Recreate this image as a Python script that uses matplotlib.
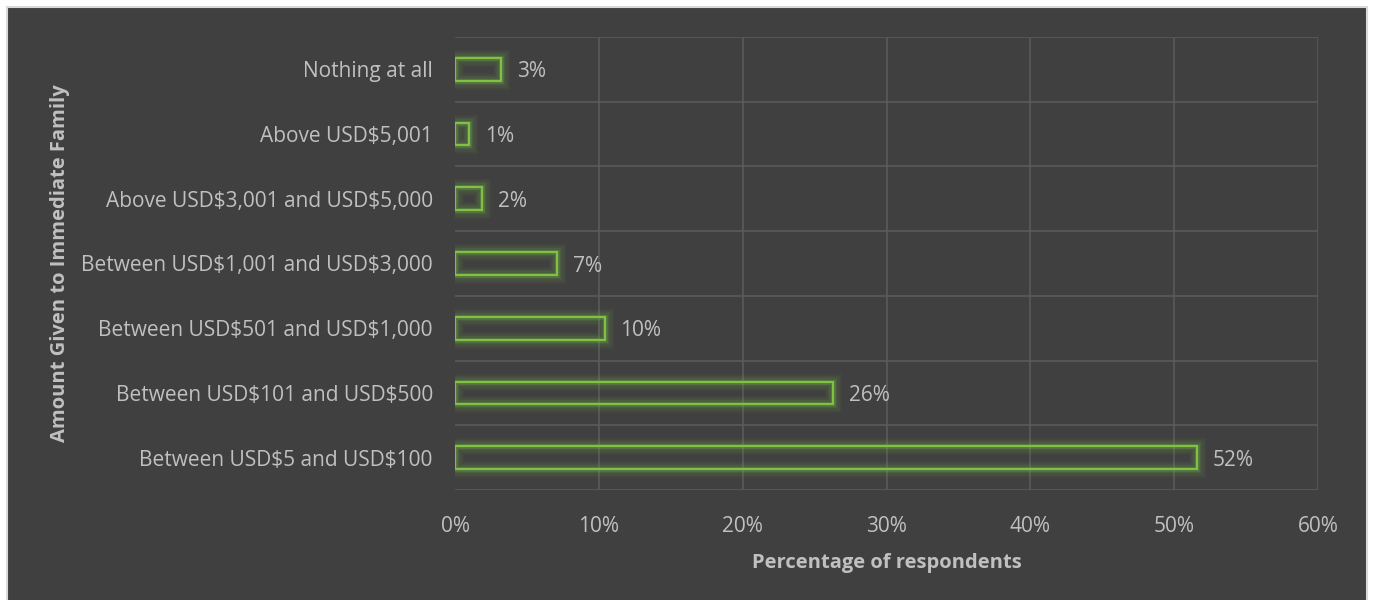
import matplotlib.pyplot as plt
from matplotlib.patches import Rectangle
from matplotlib.ticker import FuncFormatter

# Data
categories = ["Between USD$5 and USD$100", "Between USD$101 and USD$500",
              "Between USD$501 and USD$1,000", "Between USD$1,001 and USD$3,000",
              "Above USD$3,001 and USD$5,000", "Above USD$5,001", "Nothing at all"]
values = [51.6, 26.3, 10.4, 7.1, 1.9, 1.0, 3.2]
labels = ["52%", "26%", "10%", "7%", "2%", "1%", "3%"]

plt.rcParams['font.family'] = ['Open Sans', 'DejaVu Sans']
plt.rcParams['text.parse_math'] = False
bg = '#404040'
txt = '#C0C0C0'
green = '#7DC242'
fs = 15

fig = plt.figure(figsize=(13.73, 6.0), dpi=100, facecolor='white')
fig.patches.append(Rectangle((7 / 1373, -0.01), 1360 / 1373, 1 - 7 / 600 + 0.01,
                             transform=fig.transFigure, facecolor=bg,
                             edgecolor='#D9D9D9', linewidth=1.5, zorder=-10))

ax = fig.add_axes([455 / 1373, 1 - 490 / 600, 863 / 1373, 453 / 600])
ax.set_facecolor(bg)

y = range(len(categories))
# glow layers
for lw, a in [(12, 0.06), (9, 0.08), (6, 0.11), (3.5, 0.2)]:
    ax.barh(y, values, height=0.35, facecolor='none', edgecolor=green,
            linewidth=lw, alpha=a, zorder=3)
ax.barh(y, values, height=0.35, facecolor='none', edgecolor=green,
        linewidth=1.6, zorder=4)

for yi, v, lab in zip(y, values, labels):
    ax.text(v + 1.1, yi, lab, va='center_baseline', ha='left', color=txt,
            fontsize=fs)

ax.set_xlim(0, 60)
ax.set_ylim(-0.5, len(categories) - 0.5)
ax.set_xticks(range(0, 61, 10))
ax.xaxis.set_major_formatter(FuncFormatter(lambda x, p: f"{int(x)}%"))
ax.set_yticks(list(y))
ax.set_yticklabels(categories)
ax.tick_params(axis='both', length=0, colors=txt, labelsize=fs)
ax.tick_params(axis='x', pad=19)
ax.tick_params(axis='y', pad=16)

# grid
for xv in range(10, 61, 10):
    ax.axvline(xv, color='#5A5A5A', linewidth=1.2, zorder=1)
for b in [i - 0.5 for i in range(len(categories) + 1)]:
    ax.axhline(b, color='#5A5A5A', linewidth=1.2, zorder=1)
for s in ax.spines.values():
    s.set_visible(False)

ax.set_xlabel("Percentage of respondents", color=txt, fontsize=14.5,
              fontweight='bold', labelpad=11)
ax.set_ylabel("Amount Given to Immediate Family", color=txt, fontsize=14.5,
              fontweight='bold')
ax.yaxis.set_label_coords(-(455 - 70) / 863, 0.5)

plt.savefig("out.png", dpi=100, facecolor='white')
